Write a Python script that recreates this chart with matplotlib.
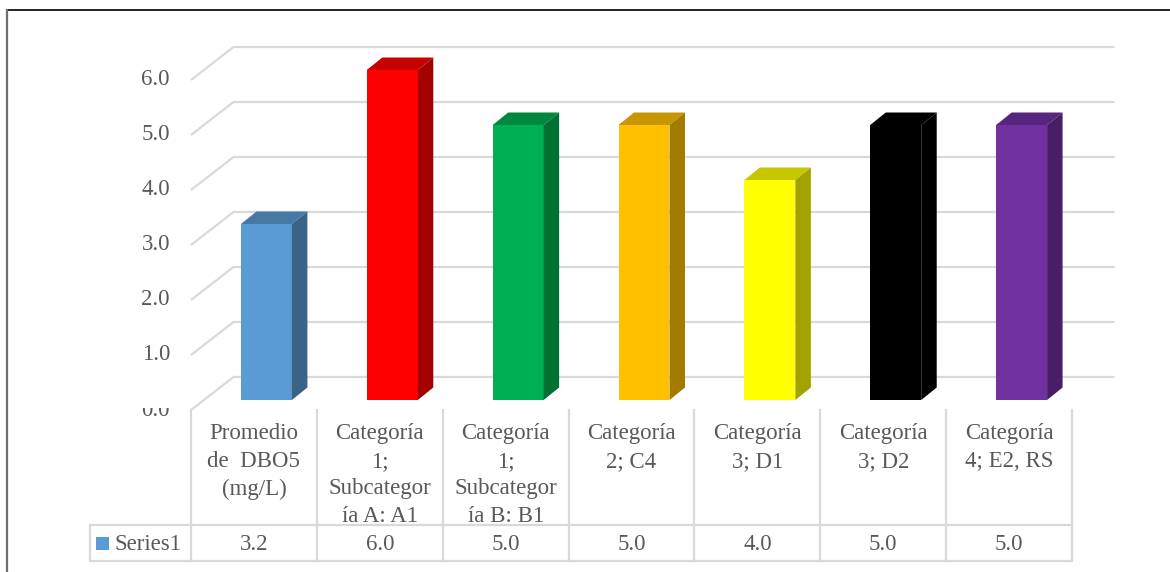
import numpy as np
import matplotlib.pyplot as plt
from matplotlib.patches import Polygon, Rectangle
from matplotlib.lines import Line2D
from matplotlib.colors import to_rgb

categories = ['Promedio\nde  DBO5\n(mg/L)',
              'Categoría\n1;\nSubcategor\nía A: A1',
              'Categoría\n1;\nSubcategor\nía B: B1',
              'Categoría\n2; C4',
              'Categoría\n3; D1',
              'Categoría\n3; D2',
              'Categoría\n4; E2, RS']
values = [3.2, 6.0, 5.0, 5.0, 4.0, 5.0, 5.0]
colors = ['#5B9BD5', '#FF0000', '#00B050', '#FFC000', '#FFFF00', '#000000', '#7030A0']
yticks = [0, 1, 2, 3, 4, 5, 6]
series_name = 'Series1'

plt.rcParams['font.family'] = ['Liberation Serif', 'DejaVu Serif']
txt_color = '#595959'
grid_color = '#D9D9D9'
fs = 16.5

W, H = 1170, 572
fig = plt.figure(figsize=(W / 100, H / 100), dpi=100)
ax = fig.add_axes([0, 0, 1, 1])

# one category = cw px, one value unit = vh px, origin at front-left floor corner
cw, vh = 125.86, 55.0
x0, y0 = 191, 410
ax.set_xlim(-x0 / cw, (W - x0) / cw)
ax.set_ylim((y0 - H) / vh, y0 / vh)
ax.axis('off')


def px(x, y):
    return (x - x0) / cw, (y0 - y) / vh


n = len(values)
# oblique offsets: back wall, bar front face, bar depth
bx, by = 42.5 / cw, 33 / vh
fx, fy = 12.5 / cw, 10 / vh
dx, dy = 15.5 / cw, 12.5 / vh
bw = 0.405


def shade(c, k):
    r, g, b = to_rgb(c)
    return (r * k, g * k, b * k)


# walls / gridlines
for v in yticks:
    ax.plot([0, bx, n + bx], [v, v + by, v + by], color=grid_color, lw=1.6,
            zorder=1, solid_capstyle='butt')

# bars: front face, top and right side
xs = np.arange(n) + 0.5 + fx
ax.bar(xs, values, width=bw, bottom=fy, color=colors, zorder=3)
for x, v, c in zip(xs, values, colors):
    l, r = x - bw / 2, x + bw / 2
    t = v + fy
    ax.add_patch(Polygon([(l, t), (r, t), (r + dx, t + dy), (l + dx, t + dy)],
                         closed=True, color=shade(c, 0.78), lw=0, zorder=3))
    ax.add_patch(Polygon([(r, fy), (r + dx, fy + dy), (r + dx, t + dy), (r, t)],
                         closed=True, color=shade(c, 0.64), lw=0, zorder=3))

# value axis labels
for v in yticks:
    ax.text(px(170, 0)[0], v, f'{v:.1f}', ha='right', va='center',
            color=txt_color, fontsize=fs, zorder=2)

# plot area covers the upper half of the 0.0 label
mx0, my0 = px(40, 407.5)
mx1, my1 = px(186, 385)
ax.add_patch(Rectangle((mx0, my0), mx1 - mx0, my1 - my0, color='white', lw=0, zorder=4))

# data table
row_top = px(0, 525)[1]
row_bot = px(0, 561)[1]
left = px(90, 0)[0]
for k in range(n + 1):
    ax.plot([k, k], [0, row_bot], color=grid_color, lw=1.6, zorder=5)
ax.plot([left, n, n, left, left], [row_top, row_top, row_bot, row_bot, row_top],
        color=grid_color, lw=1.6, zorder=5)

head_y = px(0, 423)[1]
val_y = px(0, 544)[1]
for i, (cat, v) in enumerate(zip(categories, values)):
    ax.text(i + 0.5, head_y, cat, ha='center', va='top', multialignment='center',
            linespacing=1.42, color=txt_color, fontsize=fs)
    ax.text(i + 0.5, val_y, f'{v:.1f}', ha='center', va='center',
            color=txt_color, fontsize=fs)

kx, ky = px(96, 550)
ax.add_patch(Rectangle((kx, ky), 13 / cw, 13 / vh, color=colors[0], lw=0, zorder=5))
ax.text(px(115, 0)[0], val_y, series_name, ha='left', va='center',
        color=txt_color, fontsize=fs)

# chart area border
fig.add_artist(Line2D([7 / W, 1], [1 - 10 / H, 1 - 10 / H], color='black', lw=1.2))
fig.add_artist(Line2D([7 / W, 7 / W], [0, 1 - 10 / H], color='#707070', lw=1.6))

fig.savefig('out.png', dpi=100)
